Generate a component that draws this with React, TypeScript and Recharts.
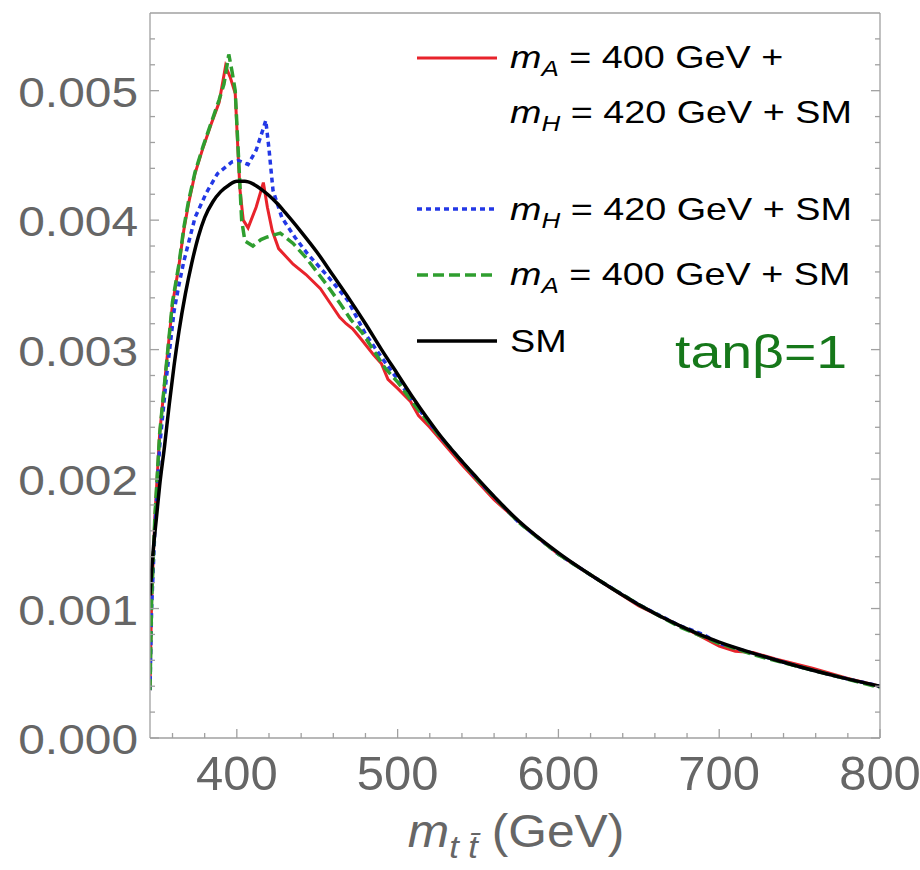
import { LineChart, Line, XAxis, YAxis } from 'recharts';

// m_tt (GeV) and normalised distribution values
const smM = [346, 348, 350, 352, 355, 358, 361, 364, 368, 372, 376, 380, 385, 390, 395, 400, 405, 410, 415, 420, 425, 430, 440, 450, 460, 470, 480, 490, 500, 510, 525, 550, 575, 600, 625, 650, 675, 700, 725, 750, 775, 800];
const smV = [0.0011, 0.00145, 0.0017, 0.00195, 0.00225, 0.00258, 0.00288, 0.00314, 0.00343, 0.00367, 0.00387, 0.00402, 0.00414, 0.00422, 0.00427, 0.0043, 0.0043, 0.00428, 0.00424, 0.00419, 0.00413, 0.00406, 0.00391, 0.00375, 0.00357, 0.00339, 0.0032, 0.003, 0.00281, 0.00262, 0.00236, 0.002, 0.00168, 0.00143, 0.00122, 0.00103, 0.00087, 0.00074, 0.00064, 0.00055, 0.00047, 0.0004];

const redM = [346, 347, 349, 352, 356, 360, 364, 367, 370, 374, 379, 384, 389, 393, 396, 399, 401, 402, 404, 407, 412, 416.5, 419, 422, 426, 435, 443, 452, 458, 464, 468, 472, 478, 485, 490, 494, 500, 508, 513, 520, 540, 560, 580, 600, 620, 650, 680, 700, 710, 721, 735, 758, 780, 800];
const redV = [0.00037, 0.00106, 0.0017, 0.00235, 0.00286, 0.00335, 0.00365, 0.00392, 0.00413, 0.00436, 0.00456, 0.00474, 0.00491, 0.00519, 0.0051, 0.00498, 0.00446, 0.00423, 0.004, 0.00394, 0.0041, 0.00429, 0.0041, 0.00392, 0.00378, 0.00366, 0.00358, 0.00347, 0.00336, 0.00325, 0.0032, 0.00316, 0.00307, 0.00296, 0.00289, 0.00277, 0.0027, 0.0026, 0.00249, 0.0024, 0.00211, 0.00184, 0.00162, 0.00142, 0.00126, 0.00102, 0.00084, 0.00071, 0.00067, 0.00066, 0.00061, 0.00054, 0.00046, 0.0004];

const blueM = [346, 347, 349, 352, 356, 361, 364, 367, 374, 381, 388, 397, 401, 407, 412, 416, 418, 420, 422.5, 428, 436, 444, 457, 469, 480, 490, 500, 510, 525, 550, 575, 600, 625, 650, 675, 690, 700, 725, 750, 775, 800];
const blueV = [0.00037, 0.001, 0.0016, 0.00225, 0.00276, 0.0033, 0.0035, 0.00368, 0.00402, 0.00421, 0.00436, 0.00445, 0.00446, 0.00443, 0.00454, 0.00469, 0.00477, 0.00455, 0.00423, 0.00402, 0.00387, 0.00374, 0.00356, 0.00338, 0.00312, 0.00294, 0.00277, 0.00259, 0.00235, 0.00199, 0.00167, 0.00142, 0.00122, 0.00103, 0.00087, 0.0008, 0.00073, 0.00064, 0.00055, 0.00047, 0.0004];

const greenM = [346, 347, 349, 352, 356, 360, 364, 367, 370, 374, 379, 384, 389, 392, 395, 397, 399, 401, 403, 405, 410, 415, 419, 427, 435, 443, 456, 464, 471, 478, 492, 500, 510, 525, 550, 575, 600, 625, 650, 675, 700, 725, 750, 775, 800];
const greenV = [0.00037, 0.00106, 0.0017, 0.00235, 0.00286, 0.00337, 0.00366, 0.00394, 0.00415, 0.00437, 0.00457, 0.00475, 0.00493, 0.00505, 0.00528, 0.00515, 0.005, 0.0045, 0.004, 0.00384, 0.0038, 0.00385, 0.00387, 0.0039, 0.00382, 0.00371, 0.0035, 0.00336, 0.00323, 0.00313, 0.00286, 0.00275, 0.00258, 0.00235, 0.00199, 0.00167, 0.00142, 0.00122, 0.00103, 0.00086, 0.00073, 0.00063, 0.00055, 0.00047, 0.00039];

const xTicks = [360, 380, 400, 420, 440, 460, 480, 500, 520, 540, 560, 580, 600, 620, 640, 660, 680, 700, 720, 740, 760, 780, 800];
const xLabels = [400, 500, 600, 700, 800];
const yTicks = [0, 0.0002, 0.0004, 0.0006, 0.0008, 0.001, 0.0012, 0.0014, 0.0016, 0.0018, 0.002, 0.0022, 0.0024, 0.0026, 0.0028, 0.003, 0.0032, 0.0034, 0.0036, 0.0038, 0.004, 0.0042, 0.0044, 0.0046, 0.0048, 0.005, 0.0052, 0.0054];
const yLabels = [0, 0.001, 0.002, 0.003, 0.004, 0.005];

const toRows = (m: number[], v: number[]) => m.map((x, i) => ({ m: x, v: v[i] }));

const RED = '#e8232b';
const BLUE = '#2338e6';
const GREEN = '#2f9e2f';
const FRAME = '#a0a0a0';
const TEXT = '#666666';
const FONT = '"Liberation Sans", Arial, Helvetica, sans-serif';

const isMajor = (list: number[], v: number) => list.some((t) => Math.abs(t - v) < 1e-9);

const BottomTick = ({ x, y, payload }: any) => {
  const major = isMajor(xLabels, payload.value);
  return (
    <g>
      <line x1={x} y1={y} x2={x} y2={y - (major ? 9 : 5)} stroke={FRAME} strokeWidth={1.3} />
      {major && (
        <g transform={`translate(${x},${y + 52}) scale(1.02,1)`}>
          <text textAnchor="middle" fontSize={48} fill={TEXT} fontFamily={FONT}>{payload.value}</text>
        </g>
      )}
    </g>
  );
};

const TopTick = ({ x, y, payload }: any) => {
  const major = isMajor(xLabels, payload.value);
  return <line x1={x} y1={y} x2={x} y2={y + (major ? 9 : 5)} stroke={FRAME} strokeWidth={1.3} />;
};

const LeftTick = ({ x, y, payload }: any) => {
  const major = isMajor(yLabels, payload.value);
  return (
    <g>
      <line x1={x} y1={y} x2={x + (major ? 9 : 5)} y2={y} stroke={FRAME} strokeWidth={1.3} />
      {major && (
        <g transform={`translate(${x - 12},${y + 16}) scale(1.14,1)`}>
          <text textAnchor="end" fontSize={42} fill={TEXT} fontFamily={FONT}>{payload.value.toFixed(3)}</text>
        </g>
      )}
    </g>
  );
};

const RightTick = ({ x, y, payload }: any) => {
  const major = isMajor(yLabels, payload.value);
  return <line x1={x} y1={y} x2={x - (major ? 9 : 5)} y2={y} stroke={FRAME} strokeWidth={1.3} />;
};

const Mass = ({ sub }: { sub: string }) => (
  <>
    <tspan fontStyle="italic">m</tspan>
    <tspan fontStyle="italic" fontSize={22} dy={8}>{sub}</tspan>
  </>
);

const Legend = () => {
  const lx1 = 417;
  const lx2 = 497;
  const tx = 510;
  const fs = 32;
  return (
    <g fontFamily={FONT} fontSize={fs} fill="#000">
      <line x1={lx1} x2={lx2} y1={58} y2={58} stroke={RED} strokeWidth={3.2} />
      <g transform={`translate(${tx},68) scale(1.18,1)`}>
        <text><Mass sub="A" /><tspan dy={-8}> = 400 GeV +</tspan></text>
      </g>
      <g transform={`translate(${tx},123) scale(1.18,1)`}>
        <text><Mass sub="H" /><tspan dy={-8}> = 420 GeV + SM</tspan></text>
      </g>

      <line x1={lx1} x2={lx2} y1={209} y2={209} stroke={BLUE} strokeWidth={3.5} strokeDasharray="5 4" />
      <g transform={`translate(${tx},220) scale(1.18,1)`}>
        <text><Mass sub="H" /><tspan dy={-8}> = 420 GeV + SM</tspan></text>
      </g>

      <line x1={lx1} x2={lx2} y1={275} y2={275} stroke={GREEN} strokeWidth={3.5} strokeDasharray="11 5" />
      <g transform={`translate(${tx},285) scale(1.18,1)`}>
        <text><Mass sub="A" /><tspan dy={-8}> = 400 GeV + SM</tspan></text>
      </g>

      <line x1={lx1} x2={lx2} y1={341} y2={341} stroke="#000" strokeWidth={3.5} />
      <g transform={`translate(${tx},352) scale(1.18,1)`}>
        <text>SM</text>
      </g>

      <g transform="translate(675,368) scale(1.18,1)">
        <text fontSize={47} fill="#16781a">tanβ=1</text>
      </g>
    </g>
  );
};

const AxisTitle = () => (
  <g transform="translate(516,847) scale(1.08,1)">
    <text textAnchor="middle" fontFamily={FONT} fontSize={46} fill={TEXT}>
      <tspan fontStyle="italic">m</tspan>
      <tspan fontStyle="italic" fontSize={32} dy={11}>{'t t\u0304'}</tspan>
      <tspan dy={-11}> (GeV)</tspan>
    </text>
  </g>
);

export default function App() {
  return (
    <div style={{ position: 'absolute', left: 0, top: 0, width: 920, height: 870, background: '#fff' }}>
      <LineChart width={920} height={870} margin={{ top: 0, right: 0, bottom: 0, left: 0 }}>
        <XAxis
          dataKey="m"
          type="number"
          domain={[346, 800]}
          ticks={xTicks}
          height={132}
          tickSize={0}
          tickMargin={0}
          tickLine={false}
          axisLine={{ stroke: FRAME, strokeWidth: 1.3 }}
          tick={<BottomTick />}
          interval={0}
          allowDataOverflow
        />
        <XAxis
          xAxisId="top"
          orientation="top"
          type="number"
          domain={[346, 800]}
          ticks={xTicks}
          height={13}
          tickSize={0}
          tickMargin={0}
          tickLine={false}
          axisLine={{ stroke: FRAME, strokeWidth: 1.3 }}
          tick={<TopTick />}
          interval={0}
          allowDataOverflow
        />
        <YAxis
          type="number"
          domain={[0, 0.0056]}
          ticks={yTicks}
          width={150}
          tickSize={0}
          tickMargin={0}
          tickLine={false}
          axisLine={{ stroke: FRAME, strokeWidth: 1.3 }}
          tick={<LeftTick />}
          interval={0}
          allowDataOverflow
        />
        <YAxis
          yAxisId="right"
          orientation="right"
          type="number"
          domain={[0, 0.0056]}
          ticks={yTicks}
          width={40}
          tickSize={0}
          tickMargin={0}
          tickLine={false}
          axisLine={{ stroke: FRAME, strokeWidth: 1.3 }}
          tick={<RightTick />}
          interval={0}
          allowDataOverflow
        />
        <Line data={toRows(redM, redV)} dataKey="v" type="linear" stroke={RED} strokeWidth={3} dot={false} isAnimationActive={false} />
        <Line data={toRows(blueM, blueV)} dataKey="v" type="linear" stroke={BLUE} strokeWidth={3.5} strokeDasharray="5 4" dot={false} isAnimationActive={false} />
        <Line data={toRows(greenM, greenV)} dataKey="v" type="linear" stroke={GREEN} strokeWidth={3.5} strokeDasharray="11 5" dot={false} isAnimationActive={false} />
        <Line data={toRows(smM, smV)} dataKey="v" type="monotone" stroke="#000" strokeWidth={3.5} dot={false} isAnimationActive={false} />
        <Legend />
        <AxisTitle />
      </LineChart>
    </div>
  );
}
